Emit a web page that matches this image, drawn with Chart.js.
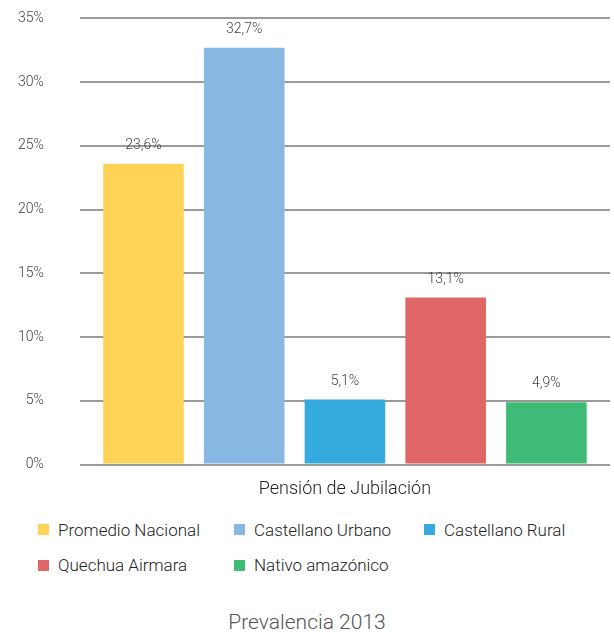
<!DOCTYPE html>
<html><head><meta charset="utf-8">
<script src="https://cdn.jsdelivr.net/npm/chart.js@4"></script>
<style>
body{margin:0;background:#fff;font-family:Roboto,"Liberation Sans",sans-serif;color:#333;overflow:hidden;}
#wrap{position:absolute;left:-18px;top:-26px;width:632px;height:535px;}
#legend{position:absolute;left:38px;top:519px;width:580px;font-size:17px;font-weight:300;color:#222;}
.item{display:inline-flex;align-items:center;margin-bottom:15px;}
.sw{width:11px;height:11px;margin-right:9px;}
#title{position:absolute;top:610px;width:614px;text-align:center;font-size:21px;font-weight:300;color:#555;}
</style></head><body>
<div id="wrap"><canvas id="c"></canvas></div>
<div id="legend"></div>
<div id="title">Prevalencia 2013</div>
<script>
const categories=["Pensión de Jubilación"];
const seriesNames=["Promedio Nacional","Castellano Urbano","Castellano Rural","Quechua Airmara","Nativo amazónico"];
const seriesValues=[23.6,32.7,5.1,13.1,4.9];
const seriesColors=["#FDD455","#86B8E3","#35ABDD","#E06565","#3DBB77"];
const yTicks=[0,5,10,15,20,25,30,35];
const legendWidths=[196,190,160,196,190];

const lg=document.getElementById('legend');
seriesNames.forEach((n,i)=>{const d=document.createElement('span');d.className='item';d.style.width=legendWidths[i]+'px';
d.innerHTML='<span class="sw" style="background:'+seriesColors[i]+'"></span>'+n;lg.appendChild(d);
if(i==2)lg.appendChild(document.createElement('br'));});

const labelPlugin={id:'lbl',afterDatasetsDraw(ch){const c=ch.ctx;c.save();c.font='300 14px Roboto';c.fillStyle='#444';c.textAlign='center';
ch.data.datasets.forEach((ds,i)=>{ch.getDatasetMeta(i).data.forEach((b,j)=>{c.fillText(ds.data[j].toFixed(1).replace('.',',')+'%',b.x,b.y-15);});});c.restore();}};

new Chart(document.getElementById('c'),{type:'bar',
data:{labels:categories,datasets:seriesNames.map((n,i)=>({label:n,data:[seriesValues[i]],backgroundColor:seriesColors[i]}))},
options:{responsive:true,maintainAspectRatio:false,animation:false,
layout:{padding:{top:0,right:4,left:0,bottom:0}},
categoryPercentage:0.95,barPercentage:0.8,
plugins:{legend:{display:false},tooltip:{enabled:false}},
scales:{
x:{grid:{display:false,drawTicks:false},border:{display:false},ticks:{display:false},
 title:{display:true,text:categories[0],font:{size:18,weight:300,family:'Roboto'},color:'#222',padding:{top:14}}},
y:{min:0,max:35,afterBuildTicks:a=>{a.ticks=yTicks.map(v=>({value:v}));},
 grid:{color:'#9a9a9a',lineWidth:2,drawTicks:false},border:{display:false},
 ticks:{padding:36,font:{size:14,weight:300,family:'Roboto'},color:'#444',callback:v=>v+'%'}}}},
plugins:[labelPlugin]});
</script></body></html>
